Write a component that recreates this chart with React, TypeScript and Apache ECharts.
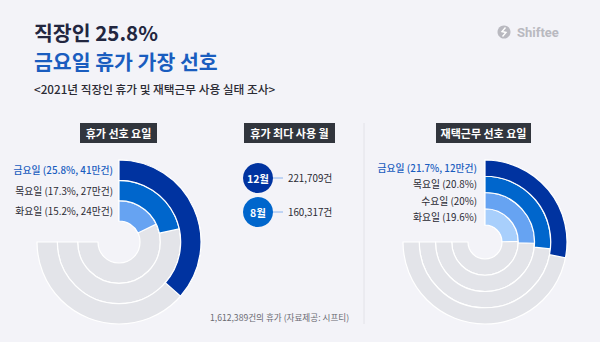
import React, { useEffect, useRef } from "react";
import * as echarts from "echarts";

const titleLine1 = "직장인 25.8%";
const titleLine2 = "금요일 휴가 가장 선호";
const subtitle = "<2021년 직장인 휴가 및 재택근무 사용 실태 조사>";
const brand = "Shiftee";

const sectionTitles = ["휴가 선호 요일", "휴가 최다 사용 월", "재택근무 선호 요일"];

// Left: vacation preferred weekday (outer -> inner)
const leftDays = ["금요일", "목요일", "화요일"];
const leftPct = [25.8, 17.3, 15.2];
const leftCounts = ["41만건", "27만건", "24만건"];

// Right: remote work preferred weekday (outer -> inner)
const rightDays = ["금요일", "목요일", "수요일", "화요일"];
const rightPct = [21.7, 20.8, 20, 19.6];
const rightCounts = ["12만건", "", "", ""];

// Middle: months with most vacation
const months = ["12월", "8월"];
const monthCounts = [221709, 160317];
const totalLeaves = 1612389;
const source = "시프티";

const BG = "#f3f3f8";
const TRACK = "#e3e4e9";
const leftColors = ["#0033a0", "#0066cc", "#66a3f2"];
const rightColors = ["#0033a0", "#0066cc", "#66a3f2", "#a8cffc"];
const FONT = "'Noto Sans CJK KR', 'Noto Sans', sans-serif";

const fmt = (n: number) => n.toLocaleString("en-US");

export default function App() {
  const ref = useRef<HTMLDivElement>(null);
  useEffect(() => {
    document.body.style.margin = "0";
    const chart = echarts.init(ref.current!, undefined, { renderer: "svg" });

    const L = { cx: 119, cy: 242, r0: 21, r1: 82, min: 5, max: 62 };
    const R = { cx: 485, cy: 242, r0: 17, r1: 82, min: 4, max: 67 };
    const track = (c: { min: number; max: number }) => c.min + 0.75 * (c.max - c.min);

    const graphics: any[] = [];
    const text = (x: number, y: number, t: string, font: string, size: number, fill: string, align = "left") =>
      graphics.push({
        type: "text",
        x,
        y,
        z: 10,
        style: {
          text: t,
          font: font.replace("SZ", `${size}px`),
          lineHeight: size,
          fill,
          textAlign: align,
          textVerticalAlign: "middle",
        },
      });

    text(34, 31.5, titleLine1, `bold SZ ${FONT}`, 20.5, "#22263f");
    text(34, 61, titleLine2, `bold SZ ${FONT}`, 20.5, "#1a5dbf");
    text(34, 88, subtitle, `500 SZ ${FONT}`, 11.7, "#2a2a33");

    // brand
    graphics.push({ type: "circle", shape: { cx: 504, cy: 32, r: 6.5 }, style: { fill: "#b9b9c0" } });
    graphics.push({
      type: "polyline",
      shape: { points: [[505.5, 27.5], [502, 31.5], [506, 32.5], [502.5, 36.5]] },
      style: { stroke: "#fff", lineWidth: 1.4, fill: null },
    });
    text(517, 32, brand, `bold SZ Roboto, sans-serif`, 13, "#b9b9c0");

    // section boxes
    const boxes = [
      { x: 80, w: 77 },
      { x: 244, w: 91 },
      { x: 436, w: 95 },
    ];
    boxes.forEach((b, i) => {
      graphics.push({ type: "rect", shape: { x: b.x, y: 123, width: b.w, height: 20 }, style: { fill: "#31353d" } });
      text(b.x + b.w / 2, 133, sectionTitles[i], `bold SZ ${FONT}`, 11, "#ffffff", "center");
    });

    // divider
    graphics.push({ type: "line", shape: { x1: 364, y1: 123, x2: 364, y2: 324 }, style: { stroke: "#e2e2e8", lineWidth: 1 } });

    // left labels
    const lband = (L.r1 - L.r0) / leftDays.length;
    leftDays.forEach((d, i) => {
      const y = L.cy - (L.r1 - (i + 0.5) * lband);
      const t = `${d} (${leftPct[i]}%, ${leftCounts[i]})`;
      text(L.cx - 6, y, t, `${i === 0 ? 500 : 400} SZ ${FONT}`, 9.8, i === 0 ? "#1a5dbf" : "#2a2a33", "right");
    });
    const rband = (R.r1 - R.r0) / rightDays.length;
    rightDays.forEach((d, i) => {
      const y = R.cy - (R.r1 - (i + 0.5) * rband);
      const t = rightCounts[i] ? `${d} (${rightPct[i]}%, ${rightCounts[i]})` : `${d} (${rightPct[i]}%)`;
      text(R.cx - 8, y, t, `${i === 0 ? 500 : 400} SZ ${FONT}`, 9.8, i === 0 ? "#1a5dbf" : "#2a2a33", "right");
    });

    // months
    const monthColors = ["#0033a0", "#0066cc"];
    months.forEach((m, i) => {
      const cy = 178 + i * 34;
      graphics.push({ type: "line", shape: { x1: 270, y1: cy, x2: 283, y2: cy }, style: { stroke: "#8ab4f0", lineWidth: 1 } });
      graphics.push({ type: "circle", shape: { cx: 258, cy, r: 15 }, style: { fill: monthColors[i] } });
      text(258, cy, m, `bold SZ ${FONT}`, 10.5, "#ffffff", "center");
      text(288, cy, `${fmt(monthCounts[i])}건`, `400 SZ ${FONT}`, 9.8, "#2a2a33");
    });
    text(210, 317, `${fmt(totalLeaves)}건의 휴가 (자료제공: ${source})`, `400 SZ ${FONT}`, 8.6, "#6a6a72");

    const barStyle = { borderColor: "#ffffff", borderWidth: 1.2 };

    chart.setOption({
      animation: false,
      backgroundColor: BG,
      polar: [
        { center: [L.cx, L.cy], radius: [L.r0, L.r1] },
        { center: [R.cx, R.cy], radius: [R.r0, R.r1] },
      ],
      angleAxis: [
        { polarIndex: 0, type: "value", min: L.min, max: L.max, startValue: L.min, startAngle: 90, clockwise: true, show: false },
        { polarIndex: 1, type: "value", min: R.min, max: R.max, startValue: R.min, startAngle: 90, clockwise: true, show: false },
      ],
      radiusAxis: [
        { polarIndex: 0, type: "category", data: [...leftDays].reverse(), show: false },
        { polarIndex: 1, type: "category", data: [...rightDays].reverse(), show: false },
      ],
      series: [
        {
          type: "bar",
          coordinateSystem: "polar",
          polarIndex: 0,
          barGap: "-100%",
          barCategoryGap: "0%",
          data: leftDays.map(() => track(L)),
          itemStyle: { color: TRACK, ...barStyle },
          silent: true,
        },
        {
          type: "bar",
          coordinateSystem: "polar",
          polarIndex: 0,
          barGap: "-100%",
          barCategoryGap: "0%",
          data: [...leftPct].reverse().map((v, i) => ({
            value: v,
            itemStyle: { color: [...leftColors].reverse()[i] },
          })),
          itemStyle: barStyle,
        },
        {
          type: "bar",
          coordinateSystem: "polar",
          polarIndex: 1,
          barGap: "-100%",
          barCategoryGap: "0%",
          data: rightDays.map(() => track(R)),
          itemStyle: { color: TRACK, ...barStyle },
          silent: true,
        },
        {
          type: "bar",
          coordinateSystem: "polar",
          polarIndex: 1,
          barGap: "-100%",
          barCategoryGap: "0%",
          data: [...rightPct].reverse().map((v, i) => ({
            value: v,
            itemStyle: { color: [...rightColors].reverse()[i] },
          })),
          itemStyle: barStyle,
        },
      ],
      graphic: graphics,
    });
    return () => chart.dispose();
  }, []);
  return <div ref={ref} style={{ width: 600, height: 342 }} />;
}
